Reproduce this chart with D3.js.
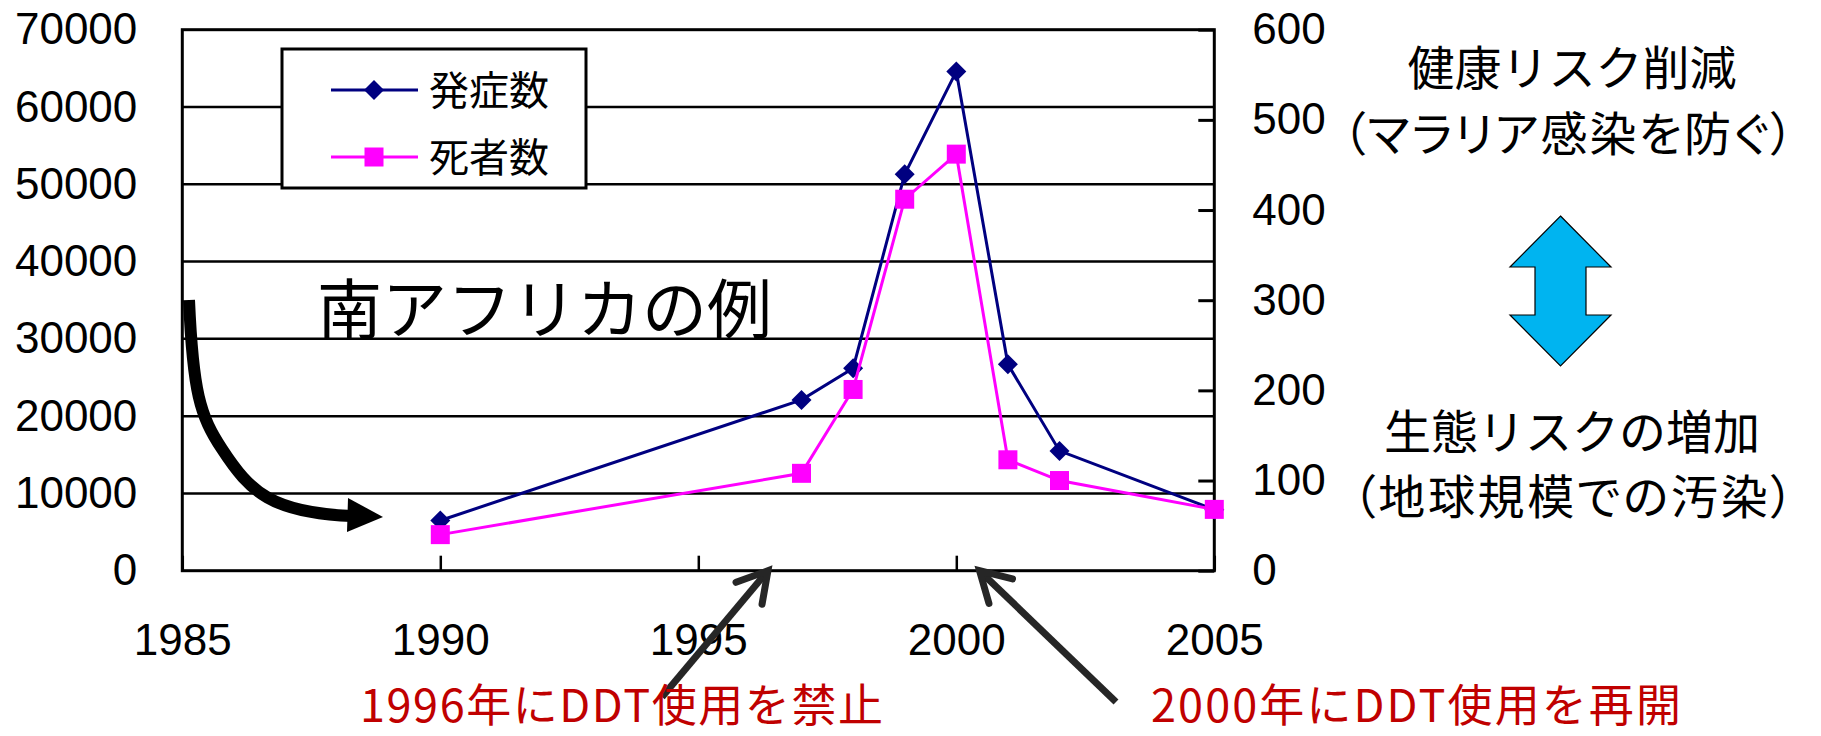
<!DOCTYPE html>
<html>
<head>
<meta charset="utf-8">
<script src="https://cdn.jsdelivr.net/npm/d3@7"></script>
<style>
  html, body { margin: 0; padding: 0; background: #fff; }
  svg { display: block; }
  .jp { font-family: "Noto Sans CJK JP", "Noto Sans", sans-serif; }
  .palt { font-feature-settings: "palt"; }
</style>
</head>
<body>
<svg id="chart" width="1821" height="736"></svg>
<script>
// Malaria in South Africa: cases (left axis) and deaths (right axis)
const years  = [1990, 1997, 1998, 1999, 2000, 2001, 2002, 2005];
const cases  = [6500, 22100, 26200, 51300, 64600, 26700, 15500, 7900];
const deaths = [40, 108, 201, 412, 462, 123, 100, 68];

const seriesNames = ["発症数", "死者数"];
const leftTicks  = [0, 10000, 20000, 30000, 40000, 50000, 60000, 70000];
const rightTicks = [0, 100, 200, 300, 400, 500, 600];
const xTicks     = [1985, 1990, 1995, 2000, 2005];

const title = "南アフリカの例";
const sideTop = ["健康リスク削減", "（マラリア感染を防ぐ）"];
const sideBottom = ["生態リスクの増加", "（地球規模での汚染）"];
const banNote = "1996年にDDT使用を禁止";
const resumeNote = "2000年にDDT使用を再開";
const banYear = 1996.35, resumeYear = 2000.45;

const svg = d3.select("#chart");
const plot = { left: 182.3, right: 1214.3, top: 29.7, bottom: 570.7 };

const x  = d3.scaleLinear().domain([1985, 2005]).range([plot.left, plot.right]);
const yL = d3.scaleLinear().domain([0, 70000]).range([plot.bottom, plot.top]);
const yR = d3.scaleLinear().domain([0, 600]).range([plot.bottom, plot.top]);

const blue = "#000080", pink = "#FF00FF";
const numFont = "Liberation Sans, Arial, sans-serif";

// horizontal gridlines
svg.append("g").selectAll("line")
  .data(leftTicks.slice(1, -1))
  .join("line")
  .attr("x1", plot.left).attr("x2", plot.right)
  .attr("y1", d => yL(d)).attr("y2", d => yL(d))
  .attr("stroke", "#000").attr("stroke-width", 2.5);

// plot frame
svg.append("rect")
  .attr("x", plot.left).attr("y", plot.top)
  .attr("width", plot.right - plot.left).attr("height", plot.bottom - plot.top)
  .attr("fill", "none").attr("stroke", "#000").attr("stroke-width", 3);

// left axis labels
const gL = svg.append("g").attr("transform", `translate(${plot.left},0)`)
  .call(d3.axisLeft(yL).tickValues(leftTicks).tickSize(0).tickPadding(45).tickFormat(d3.format("d")));
gL.select(".domain").remove();
gL.selectAll("text").attr("font-size", 44).attr("fill", "#000").attr("font-family", numFont);

// right axis with inward ticks
const gR = svg.append("g").attr("transform", `translate(${plot.right},0)`)
  .call(d3.axisRight(yR).tickValues(rightTicks).tickSizeInner(-16).tickSizeOuter(0).tickPadding(38));
gR.select(".domain").remove();
gR.selectAll(".tick line").attr("stroke", "#000").attr("stroke-width", 3);
gR.selectAll("text").attr("font-size", 44).attr("fill", "#000").attr("font-family", numFont);

// bottom axis with inward ticks, labels well below the axis
const gX = svg.append("g").attr("transform", `translate(0,${plot.bottom})`)
  .call(d3.axisBottom(x).tickValues(xTicks).tickSizeInner(-15).tickSizeOuter(0).tickPadding(53).tickFormat(d3.format("d")));
gX.select(".domain").remove();
gX.selectAll(".tick line").attr("stroke", "#000").attr("stroke-width", 2.5);
gX.selectAll("text").attr("font-size", 44).attr("fill", "#000").attr("font-family", numFont);

// series
const diamond = d3.symbol().type(d3.symbolSquare).size(200);
const square  = d3.symbol().type(d3.symbolSquare).size(361);

function drawSeries(values, yScale, color, sym, rotate) {
  const pts = years.map((yr, i) => [x(yr), yScale(values[i])]);
  svg.append("path")
    .attr("d", d3.line()(pts))
    .attr("fill", "none").attr("stroke", color).attr("stroke-width", 3);
  svg.append("g").selectAll("path")
    .data(pts).join("path")
    .attr("d", sym)
    .attr("transform", d => `translate(${d[0]},${d[1]}) rotate(${rotate})`)
    .attr("fill", color);
}
drawSeries(cases, yL, blue, diamond, 45);
drawSeries(deaths, yR, pink, square, 0);

// legend
const legend = svg.append("g");
legend.append("rect")
  .attr("x", 282).attr("y", 49).attr("width", 304).attr("height", 139)
  .attr("fill", "#fff").attr("stroke", "#000").attr("stroke-width", 3);
const legendItems = [
  { name: seriesNames[0], color: blue, sym: diamond, rot: 45, cy: 90 },
  { name: seriesNames[1], color: pink, sym: square, rot: 0, cy: 157 }
];
legendItems.forEach(it => {
  legend.append("line").attr("x1", 331).attr("x2", 418).attr("y1", it.cy).attr("y2", it.cy)
    .attr("stroke", it.color).attr("stroke-width", 3);
  legend.append("path").attr("d", it.sym)
    .attr("transform", `translate(374,${it.cy}) rotate(${it.rot})`).attr("fill", it.color);
  legend.append("text").attr("class", "jp").attr("x", 429).attr("y", it.cy + 15)
    .attr("font-size", 40).attr("fill", "#000").text(it.name);
});

// title
svg.append("text").attr("class", "jp").attr("x", 317).attr("y", 333)
  .attr("font-size", 65).attr("fill", "#000").text(title);

// curved black arrow pointing at the 1990 data
svg.append("path")
  .attr("d", "M189,300 C193,392 200,416 222,449 C250,492 272,513 352,516")
  .attr("fill", "none").attr("stroke", "#000").attr("stroke-width", 12);
svg.append("path")
  .attr("d", "M383,517 L348,498 L347,532 Z").attr("fill", "#000");

// straight arrows to the x axis
function pointer(tipYear, tail) {
  const tip = [x(tipYear), yL(0)];
  const ang = Math.atan2(tip[1] - tail[1], tip[0] - tail[0]);
  const arm = 34, spread = Math.PI / 6;
  const a1 = [tip[0] - arm * Math.cos(ang - spread), tip[1] - arm * Math.sin(ang - spread)];
  const a2 = [tip[0] - arm * Math.cos(ang + spread), tip[1] - arm * Math.sin(ang + spread)];
  svg.append("path").attr("d", d3.line()([tail, tip]))
    .attr("stroke", "#262626").attr("stroke-width", 7).attr("fill", "none");
  svg.append("path").attr("d", d3.line()([a1, tip, a2]))
    .attr("stroke", "#262626").attr("stroke-width", 7).attr("fill", "none")
    .attr("stroke-linecap", "round").attr("stroke-linejoin", "miter");
}
pointer(banYear, [662, 697]);
pointer(resumeYear, [1116, 702]);

// notes under the axis
svg.append("text").attr("class", "jp").attr("x", 360).attr("y", 722)
  .attr("font-size", 45).attr("fill", "#C00000")
  .attr("textLength", 523).attr("lengthAdjust", "spacing").text(banNote);
svg.append("text").attr("class", "jp").attr("x", 1151).attr("y", 722)
  .attr("font-size", 45).attr("fill", "#C00000")
  .attr("textLength", 530).attr("lengthAdjust", "spacing").text(resumeNote);

// side text
const sx = 1572;
svg.append("text").attr("class", "jp").attr("x", sx).attr("y", 85)
  .attr("text-anchor", "middle").attr("font-size", 47).text(sideTop[0]);
svg.append("text").attr("class", "jp palt").attr("x", 1342).attr("y", 151)
  .attr("font-size", 47).attr("textLength", 452).attr("lengthAdjust", "spacing").text(sideTop[1]);
svg.append("text").attr("class", "jp").attr("x", sx).attr("y", 449)
  .attr("text-anchor", "middle").attr("font-size", 47).text(sideBottom[0]);
svg.append("text").attr("class", "jp palt").attr("x", 1352).attr("y", 514)
  .attr("font-size", 47).attr("textLength", 442).attr("lengthAdjust", "spacing").text(sideBottom[1]);

// double-headed block arrow between the two statements
const ax = 1560.5;
const dbl = [
  [ax, 216], [ax + 50.5, 267], [ax + 25.5, 267], [ax + 25.5, 315], [ax + 50.5, 315],
  [ax, 366], [ax - 50.5, 315], [ax - 25.5, 315], [ax - 25.5, 267], [ax - 50.5, 267]
];
svg.append("path").attr("d", d3.line()(dbl) + "Z")
  .attr("fill", "#00B4F0").attr("stroke", "#000").attr("stroke-width", 1.2);
</script>
</body>
</html>
